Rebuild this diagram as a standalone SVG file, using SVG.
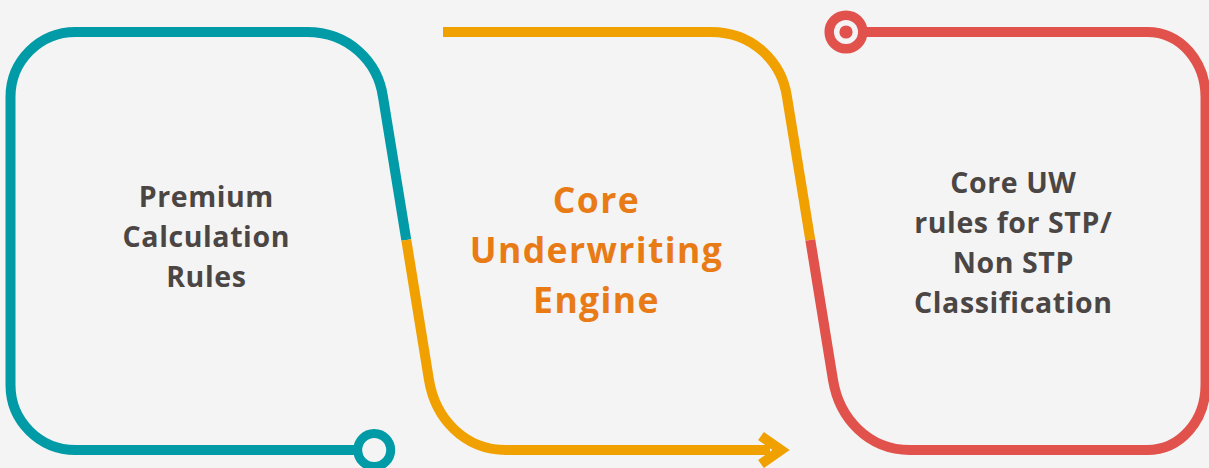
<svg xmlns="http://www.w3.org/2000/svg" width="1209" height="468" viewBox="0 0 1209 468">
  <style>
    .ln { fill: none; stroke-width: 10; stroke-linecap: butt; stroke-linejoin: round; }
    .teal { stroke: #009ba6; }
    .orange { stroke: #f0a100; }
    .red { stroke: #e0524b; }
    .lbl { font-family: "Open Sans", "Liberation Sans", sans-serif; font-weight: 700; text-anchor: middle; }
    .grey { fill: #4b4644; font-size: 28.5px; letter-spacing: 0.6px; }
    .hl { fill: #e87b16; font-size: 35.5px; letter-spacing: 1.4px; }
  </style>
  <rect width="1209" height="468" fill="#f4f4f4"/>

  <g id="connectors">
    <path class="ln teal" d="M406.3 240 L383 97 C378 62 349 32 307 32 L75.5 32 A65 65 0 0 0 10.5 97 L10.5 385 A65 65 0 0 0 75.5 450 L360 450"/>
    <path class="ln orange" d="M443 32 L711 32 C753 32 782 62 787 97 L810.3 240"/>
    <path class="ln orange" d="M406.3 240 L429 380 C435.2 418 464 450 506 450 L770 450"/>
    <polyline class="ln orange" points="761,436 781,450 761,464" style="stroke-linejoin:miter;stroke-miterlimit:10"/>
    <path class="ln red" d="M810.3 240 L833 380 C839.2 418 868 450 910 450 L1147 450 C1181 450 1205.5 420 1205.5 385 L1205.5 97 C1205.5 62 1181 32 1147 32 L860 32"/>
  </g>

  <g id="end-teal">
    <circle cx="374.2" cy="450" r="16.5" fill="#f4f4f4" stroke="#009ba6" stroke-width="9"/>
  </g>
  <g id="start-red">
    <circle cx="846" cy="32" r="16.8" fill="#f4f4f4" stroke="#e0524b" stroke-width="9.5"/>
    <circle cx="846" cy="32" r="6.6" fill="#e0524b"/>
  </g>

  <g id="node-premium">
    <text class="lbl grey" x="206.3" y="207">Premium</text>
    <text class="lbl grey" x="206.3" y="247">Calculation</text>
    <text class="lbl grey" x="206.3" y="287">Rules</text>
  </g>
  <g id="node-engine">
    <text class="lbl hl" x="596.5" y="213">Core</text>
    <text class="lbl hl" x="596.5" y="263">Underwriting</text>
    <text class="lbl hl" x="596.5" y="313">Engine</text>
  </g>
  <g id="node-uw-rules">
    <text class="lbl grey" x="1013.3" y="193">Core UW</text>
    <text class="lbl grey" x="1013.3" y="233">rules for STP/</text>
    <text class="lbl grey" x="1013.3" y="273">Non STP</text>
    <text class="lbl grey" x="1013.3" y="313">Classification</text>
  </g>
</svg>
